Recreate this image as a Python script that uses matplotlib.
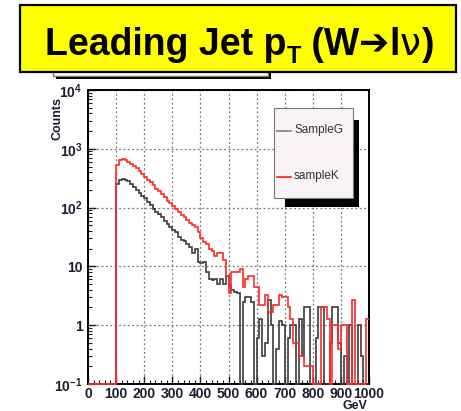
"""Leading jet pT spectrum for two W->lnu samples, ROOT-style log histogram."""
import matplotlib

matplotlib.use("Agg")
import matplotlib.pyplot as plt
import numpy as np
from matplotlib.lines import Line2D
from matplotlib.patches import Rectangle
from matplotlib.ticker import FixedLocator, LogLocator, MultipleLocator, NullFormatter

# 10 GeV bins from 0 to 1000 GeV
bin_edges = np.arange(0, 1010, 10)

sample_g = [
    0, 0, 0, 0, 0, 0, 0, 0, 0, 0,
    250, 290, 310, 300, 280, 250, 220, 200, 175, 160,
    145, 125, 110, 95, 85, 78, 70, 60, 52, 46,
    42, 38, 32, 28, 27, 24, 21, 17, 20, 12,
    11.5, 12, 8, 6, 5.9, 6, 5, 6, 5, 7,
    4.9, 4, 3.7, 3.5, 0, 2.5, 3, 3, 2.5, 0,
    0.6, 1.3, 0.3, 0.5, 2.7, 1, 0, 0.4, 1.2, 1,
    0, 0.6, 1, 1, 0, 1.3, 0.3, 2, 2, 0,
    0, 0.6, 2, 2, 0, 0, 0.5, 2, 2, 0.5,
    0, 0.3, 0, 1, 0, 0, 1, 0.3, 0, 0,
]
sample_k = [
    0, 0, 0, 0, 0, 0, 0, 0, 0, 0,
    530, 650, 660, 640, 600, 560, 510, 470, 420, 380,
    330, 300, 270, 240, 210, 190, 170, 150, 130, 120,
    105, 95, 85, 75, 68, 62, 55, 50, 46, 38,
    30, 26, 24, 20, 18, 15, 17, 17, 13, 7,
    3.5, 8, 8, 8, 9, 4.5, 6, 7, 7, 4.5,
    4.5, 2.2, 2.2, 3.2, 1.7, 1.7, 2.2, 2.2, 3.2, 3,
    3, 2, 1.3, 0.5, 0.5, 0.3, 0.3, 0.2, 0.2, 0.2,
    0, 0, 0, 2, 2, 1.3, 0, 1, 1, 0.4,
    1, 1, 0, 0, 2.7, 0, 0, 0, 0, 1.3,
]
series_names = ["SampleG", "sampleK"]
series_colors = ["#3c3c3c", "#ff2a2a"]

x_ticks = list(range(0, 1001, 100))
y_ticks = [0.1, 1, 10, 100, 1000, 10000]
y_tick_labels = ["10$^{-1}$", "1", "10", "10$^{2}$", "10$^{3}$", "10$^{4}$"]

# title pieces: (text, font size, baseline shift in px, family, weight)
title_parts = [
    ("Leading Jet p", 27, 0, "Liberation Sans", "bold"),
    ("T", 17, 8, "Liberation Sans", "bold"),
    (" (W", 27, 0, "Liberation Sans", "bold"),
    ("➔", 26, 0, "DejaVu Sans", "bold"),
    ("l", 27, 0, "Liberation Sans", "bold"),
    ("ν", 27, 0, "DejaVu Sans", "normal"),
    (")", 27, 0, "Liberation Sans", "bold"),
]

W, H = 461, 411
Y_MIN, Y_MAX = 0.1, 1e4


def fx(px):
    return px / W


def fy(py):
    return 1 - py / H


def draw_title(fig):
    # old ROOT title pad peeking out under the banner
    fig.add_artist(Rectangle((fx(56), fy(79)), fx(215), 19 / H, transform=fig.transFigure,
                             facecolor="black", edgecolor="none", zorder=1))
    fig.add_artist(Rectangle((fx(53), fy(76)), fx(215), 19 / H, transform=fig.transFigure,
                             facecolor="white", edgecolor="#777777", linewidth=1, zorder=2))
    fig.add_artist(Rectangle((fx(20), fy(72)), fx(436), 67 / H, transform=fig.transFigure,
                             facecolor="#ffff00", edgecolor="black", linewidth=1.6, zorder=3))

    renderer = fig.canvas.get_renderer()
    x = 45
    for text, size, shift, family, weight in title_parts:
        t = fig.text(fx(x), fy(55 + shift), text, ha="left", va="baseline", fontsize=size,
                     fontweight=weight, family=family, zorder=4)
        x += t.get_window_extent(renderer).width


def draw_legend(fig):
    fig.add_artist(Rectangle((fx(285), fy(207)), fx(74), 87 / H, transform=fig.transFigure,
                             facecolor="black", edgecolor="none", zorder=5))
    fig.add_artist(Rectangle((fx(274), fy(198)), fx(79), 90 / H, transform=fig.transFigure,
                             facecolor="#f7f3f7", edgecolor="#777777", linewidth=0.8, zorder=6))
    rows = [131, 177]
    line_colors = ["#8a8a8a", series_colors[1]]
    for name, color, row in zip(series_names, line_colors, rows):
        fig.add_artist(Line2D([fx(277), fx(291)], [fy(row), fy(row)], transform=fig.transFigure,
                              color=color, linewidth=1.3, zorder=7))
        fig.text(fx(294), fy(row - 1), name, ha="left", va="center", fontsize=8.5,
                 color="#333333", zorder=7)


def main():
    plt.rcParams["font.family"] = ["Liberation Sans", "DejaVu Sans"]
    plt.rcParams["mathtext.fontset"] = "custom"
    plt.rcParams["mathtext.rm"] = "Liberation Sans:bold"
    plt.rcParams["mathtext.it"] = "Liberation Sans:bold"
    plt.rcParams["mathtext.bf"] = "Liberation Sans:bold"

    fig = plt.figure(figsize=(W / 100, H / 100), dpi=100)
    ax = fig.add_axes([fx(88), fy(384), fx(369 - 88), (384 - 90) / H])

    # empty bins sit on the floor of the log axis, as ROOT draws them
    for values, color in zip([sample_g, sample_k], series_colors):
        v = np.asarray(values, dtype=float)
        ax.stairs(np.where(v > 0, v, Y_MIN), bin_edges, baseline=None,
                  color=color, linewidth=1.2, zorder=3, clip_on=False)

    ax.set_yscale("log")
    ax.set_xlim(0, 1000)
    ax.set_ylim(Y_MIN, Y_MAX)

    ax.xaxis.set_major_locator(FixedLocator(x_ticks))
    ax.xaxis.set_minor_locator(MultipleLocator(20))
    ax.set_xticklabels([str(t) for t in x_ticks])
    ax.yaxis.set_major_locator(FixedLocator(y_ticks))
    ax.set_yticklabels(y_tick_labels)
    ax.yaxis.set_minor_locator(LogLocator(base=10, subs=np.arange(2, 10)))
    ax.yaxis.set_minor_formatter(NullFormatter())

    ax.tick_params(which="both", direction="in", top=False, right=False,
                   labelsize=10, colors="#1c1c30")
    ax.tick_params(which="major", length=6, width=1)
    ax.tick_params(which="minor", length=3, width=0.8)
    ax.tick_params(axis="x", pad=2)
    ax.tick_params(axis="y", pad=4)
    for lab in ax.get_xticklabels() + ax.get_yticklabels():
        lab.set_fontweight("bold")
    for side in ax.spines.values():
        side.set_linewidth(1.4)
        side.set_color("black")

    ax.grid(True, which="major", color="#777777", linestyle=(0, (1.5, 2)), linewidth=0.9)
    ax.set_axisbelow(True)

    fig.text(fx(57), fy(97), "Counts", rotation=90, ha="center", va="top",
             fontsize=9, fontweight="bold", color="#1c1c30")
    fig.text(fx(355), fy(406), "GeV", ha="center", va="center",
             fontsize=9, fontweight="bold", color="#1c1c30")

    draw_title(fig)
    draw_legend(fig)

    fig.savefig("out.png", dpi=100)


if __name__ == "__main__":
    main()
